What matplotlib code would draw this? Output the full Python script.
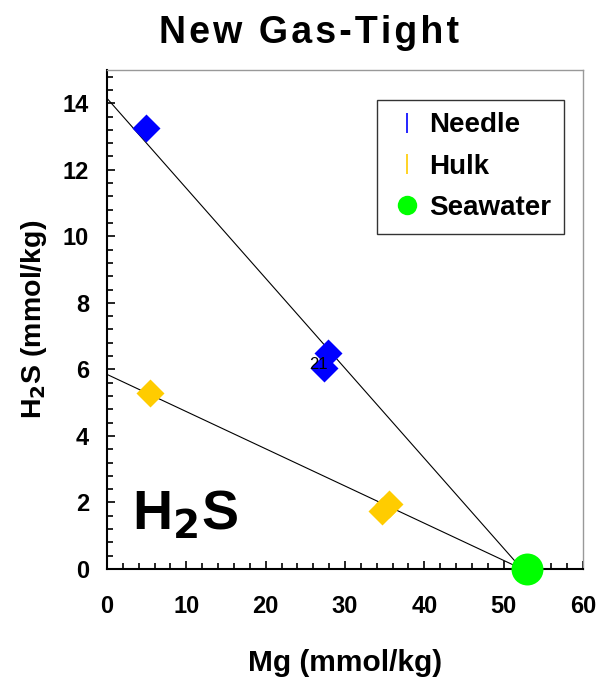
import matplotlib.pyplot as plt
from matplotlib.lines import Line2D
from matplotlib.ticker import MultipleLocator

plt.rcParams['font.family'] = ['Liberation Sans', 'DejaVu Sans']
plt.rcParams['font.weight'] = 'bold'

# Data
needle_mg = [4.9, 27.8, 27.4]
needle_h2s = [13.25, 6.5, 6.05]
hulk_mg = [5.4, 34.7, 35.6]
hulk_h2s = [5.3, 1.75, 1.95]
seawater_mg = [53.0]
seawater_h2s = [0.0]

# mixing lines (endpoints)
needle_fit_mg = [0.0, 52.3]
needle_fit_h2s = [14.15, 0.0]
hulk_fit_mg = [0.0, 52.3]
hulk_fit_h2s = [5.85, 0.0]

blue = '#0000FF'
yellow = '#FFCC00'
green = '#00FF00'

fig = plt.figure(figsize=(6.02, 6.81), dpi=100)
ax = fig.add_axes([0.1777, 0.1645, 0.7907, 0.7327])

ax.plot(needle_fit_mg, needle_fit_h2s, color='black', lw=0.8, zorder=2)
ax.plot(hulk_fit_mg, hulk_fit_h2s, color='black', lw=0.8, zorder=2)

ax.plot(needle_mg, needle_h2s, 'D', color=blue, ms=14, mec='none', zorder=3)
ax.plot(hulk_mg, hulk_h2s, 'D', color=yellow, ms=14, mec='none', zorder=3)
ax.plot(seawater_mg, seawater_h2s, 'o', color=green, ms=23, mec='none', zorder=4,
        clip_on=False)

ax.text(26.6, 6.15, '21', fontsize=12, fontweight='normal', ha='center', va='center',
        zorder=5)
ax.text(3.2, 1.2, r'H$_\mathbf{2}$S', fontsize=40, fontweight='bold', ha='left',
        va='baseline')

ax.set_xlim(0, 60)
ax.set_ylim(0, 15)
ax.xaxis.set_major_locator(MultipleLocator(10))
ax.xaxis.set_minor_locator(MultipleLocator(2))
ax.yaxis.set_major_locator(MultipleLocator(2))
ax.yaxis.set_minor_locator(MultipleLocator(0.4))
ax.set_yticks([0, 2, 4, 6, 8, 10, 12, 14])

ax.tick_params(which='both', direction='in', top=False, right=False, width=1.2)
ax.tick_params(which='major', length=5.5, labelsize=17)
ax.tick_params(axis='x', which='major', pad=19)
ax.tick_params(axis='y', which='major', pad=13)
ax.tick_params(which='minor', length=4.5)

for s in ['left', 'bottom']:
    ax.spines[s].set_color('black')
    ax.spines[s].set_linewidth(1.5)
for s in ['top', 'right']:
    ax.spines[s].set_color('#999999')
    ax.spines[s].set_linewidth(1.0)

ax.set_xlabel('Mg (mmol/kg)', fontsize=21.5, fontweight='bold', labelpad=22)
ax.set_ylabel(r'H$_\mathbf{2}$S (mmol/kg)', fontsize=20.5, fontweight='bold', labelpad=10)
title = '\u200a'.join('New Gas-Tight')
fig.text(0.513, 0.952, title, fontsize=27, fontweight='bold', ha='center', va='center')

handles = [
    Line2D([], [], marker='|', ls='none', color=blue, ms=14, mew=1.2),
    Line2D([], [], marker='|', ls='none', color=yellow, ms=14, mew=1.2),
    Line2D([], [], marker='o', ls='none', color=green, ms=14, mec='none'),
]
leg = ax.legend(handles, ['Needle', 'Hulk', 'Seawater'], loc='upper right',
                bbox_to_anchor=(0.96, 0.94), borderaxespad=0, frameon=True,
                fancybox=False, edgecolor='black', handletextpad=0.15,
                labelspacing=0.55, borderpad=0.45, handlelength=1.3,
                prop={'weight': 'bold', 'size': 20})
leg.get_frame().set_linewidth(1.0)

fig.savefig('out.png', dpi=100)
